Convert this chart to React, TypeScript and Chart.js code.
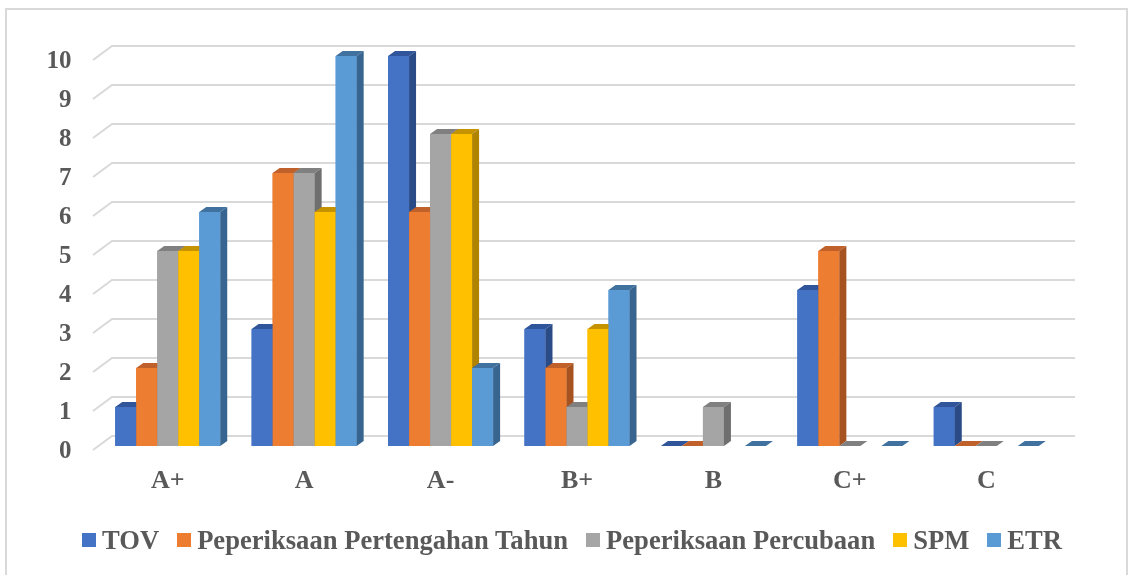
import React, { useEffect, useRef } from 'react';
import { Chart, registerables } from 'chart.js';

Chart.register(...registerables);

const categories = ['A+', 'A', 'A-', 'B+', 'B', 'C+', 'C'];
const tov = [1, 3, 10, 3, 0, 4, 1];
const pertengahan = [2, 7, 6, 2, 0, 5, 0];
const percubaan = [5, 7, 8, 1, 1, 0, 0];
const spm = [5, 6, 8, 3, null, null, null];
const etr = [6, 10, 2, 4, 0, 0, 0];
const seriesNames = ['TOV', 'Peperiksaan Pertengahan Tahun', 'Peperiksaan Percubaan', 'SPM', 'ETR'];
const seriesValues = [tov, pertengahan, percubaan, spm, etr];
const seriesColors = ['#4472C4', '#ED7D31', '#A5A5A5', '#FFC000', '#5B9BD5'];
const topColors = ['#30559a', '#c0602a', '#808080', '#c59300', '#41729f'];
const sideColors = ['#2b4b86', '#a65221', '#6f6f6f', '#b08300', '#386590'];
const yMin = 0;
const yMax = 10;
const yStep = 1;

const FONT = '"Times New Roman", "Liberation Serif", serif';
const DX = 7;
const DY = 5;

const bar3d = {
  id: 'bar3d',
  beforeDatasetsDraw(chart: any) {
    const { ctx, chartArea } = chart;
    const y = chart.scales.y;
    ctx.save();
    ctx.strokeStyle = '#d9d9d9';
    ctx.lineWidth = 2;
    for (let v = yMin; v <= yMax; v += yStep) {
      const py = y.getPixelForValue(v);
      ctx.beginPath();
      ctx.moveTo(chartArea.left - 6.5, py + 4);
      ctx.lineTo(chartArea.left + 12.5, py - 10);
      ctx.lineTo(chartArea.right + 20.5, py - 10);
      ctx.stroke();
    }
    ctx.restore();
  },
  afterDatasetsDraw(chart: any) {
    const ctx = chart.ctx;
    const n = chart.data.labels.length;
    const metas = chart.data.datasets.map((_: any, i: number) => chart.getDatasetMeta(i));
    ctx.save();
    for (let j = 0; j < n; j++) {
      metas.forEach((meta: any, i: number) => {
        const val = chart.data.datasets[i].data[j];
        const el = meta.data[j];
        if (val === null || val === undefined || !el) return;
        const { x, y, base, width } = el.getProps(['x', 'y', 'base', 'width'], true);
        if (!isFinite(x) || !isFinite(y)) return;
        const l = x - width / 2;
        const r = x + width / 2;
        // front face
        ctx.fillStyle = seriesColors[i];
        ctx.fillRect(l, y, width, base - y);
        // top face
        ctx.fillStyle = topColors[i];
        ctx.beginPath();
        ctx.moveTo(l, y);
        ctx.lineTo(r, y);
        ctx.lineTo(r + DX, y - DY);
        ctx.lineTo(l + DX, y - DY);
        ctx.closePath();
        ctx.fill();
        // side face
        if (base - y > 0.5) {
          ctx.fillStyle = sideColors[i];
          ctx.beginPath();
          ctx.moveTo(r, y);
          ctx.lineTo(r + DX, y - DY);
          ctx.lineTo(r + DX, base - DY);
          ctx.lineTo(r, base);
          ctx.closePath();
          ctx.fill();
        }
      });
    }
    ctx.restore();
  },
};

export default function App() {
  const ref = useRef<HTMLCanvasElement>(null);
  useEffect(() => {
    if (!ref.current) return;
    const chart = new Chart(ref.current, {
      type: 'bar',
      data: {
        labels: categories,
        datasets: seriesNames.map((name, i) => ({
          label: name,
          data: seriesValues[i] as any,
          backgroundColor: seriesColors[i],
          borderWidth: 0,
          barPercentage: 1,
          categoryPercentage: 0.77,
        })),
      },
      options: {
        responsive: false,
        animation: false,
        devicePixelRatio: 1,
        layout: { padding: { left: 0, right: 73.5, top: 56, bottom: 0 } },
        plugins: { legend: { display: false }, tooltip: { enabled: false } },
        scales: {
          x: {
            grid: { display: false, drawTicks: false },
            border: { display: false },
            ticks: { font: { family: FONT, size: 26, weight: 'bold' }, color: '#595959', padding: 20 },
            afterFit: (s: any) => {
              s.height = 129;
            },
          },
          y: {
            min: yMin,
            max: yMax,
            grid: { display: false, drawTicks: false },
            border: { display: false },
            ticks: {
              stepSize: yStep,
              font: { family: FONT, size: 25, weight: 'bold' },
              color: '#595959',
              padding: 28,
              labelOffset: 6,
            },
            afterFit: (s: any) => {
              s.width = 99.5;
            },
          },
        },
      },
      plugins: [bar3d],
    } as any);
    return () => chart.destroy();
  }, []);

  return (
    <div style={{ position: 'fixed', left: 0, top: 0, width: 1128, height: 575, background: '#fff', overflow: 'hidden' }}>
      <div
        style={{
          position: 'absolute',
          left: 5,
          top: 8,
          width: 1123,
          height: 620,
          border: '2px solid #d9d9d9',
          boxSizing: 'border-box',
        }}
      />
      <canvas ref={ref} width={1128} height={575} style={{ position: 'absolute', left: 0, top: 0, width: 1128, height: 575 }} />
      <div
        style={{
          position: 'absolute',
          left: 0,
          top: 524,
          width: 1144,
          height: 32,
          display: 'flex',
          justifyContent: 'center',
          alignItems: 'center',
          fontFamily: FONT,
          fontWeight: 'bold',
          fontSize: 26.6,
          color: '#595959',
          whiteSpace: 'nowrap',
        }}
      >
        {seriesNames.map((name, i) => (
          <div key={name} style={{ display: 'flex', alignItems: 'center', marginRight: i < seriesNames.length - 1 ? 18 : 0 }}>
            <span style={{ display: 'inline-block', width: 14, height: 14, background: seriesColors[i], marginRight: 6 }} />
            <span style={{ lineHeight: '32px' }}>{name}</span>
          </div>
        ))}
      </div>
    </div>
  );
}
